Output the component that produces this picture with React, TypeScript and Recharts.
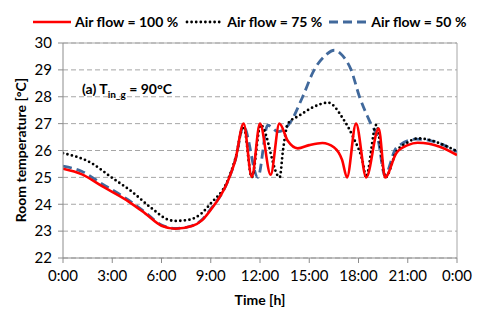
import { CartesianGrid, Line, LineChart, ReferenceLine, XAxis, YAxis } from "recharts";

// hours of day and room temperature [°C]
const hours100 = [0, 1.16, 2.38, 4, 5, 6, 6.84, 7.86, 8.46, 8.97, 10, 10.5, 11, 11.5, 12, 12.65, 13.18, 13.7, 14.3, 15, 15.8, 16.5, 17, 17.3, 17.85, 18.47, 19.23, 19.62, 20.3, 21, 21.6, 22.3, 22.95, 24];
const temp100 = [25.32, 25.11, 24.67, 24.1, 23.66, 23.2, 23.09, 23.19, 23.4, 23.77, 24.8, 25.65, 27.0, 25.02, 27.0, 25.1, 27.0, 26.35, 26.08, 26.2, 26.28, 26.12, 25.65, 25.0, 27.0, 25.0, 26.82, 25.0, 25.9, 26.2, 26.29, 26.25, 26.14, 25.83];

const hours75 = [0, 1.74, 2.95, 4.17, 5.4, 6.43, 6.84, 7.65, 8.46, 9, 10, 10.5, 11, 11.5, 12.04, 13.2, 13.4, 13.7, 14.4, 15.2, 16.15, 17.06, 17.67, 18.3, 18.45, 19.08, 19.65, 20.3, 21, 21.6, 22.3, 23.2, 24];
const temp75 = [25.9, 25.53, 25.0, 24.48, 23.85, 23.42, 23.38, 23.42, 23.67, 24.03, 24.84, 25.7, 26.9, 25.0, 26.95, 25.0, 26.0, 27.0, 27.3, 27.6, 27.78, 27.18, 26.5, 25.46, 25.0, 26.95, 25.0, 25.95, 26.3, 26.45, 26.4, 26.2, 25.97];

const hours50 = [0, 1.16, 2.38, 4, 5, 6, 6.84, 7.86, 8.46, 8.97, 10, 10.5, 11, 11.87, 12.47, 13.1, 13.5, 13.9, 14.6, 15.3, 16.0, 16.53, 17.0, 17.55, 18.06, 18.67, 19.2, 19.6, 20.3, 21.5, 22.3, 23.2, 24];
const temp50 = [25.42, 25.22, 24.76, 24.15, 23.7, 23.23, 23.1, 23.2, 23.42, 23.8, 24.8, 25.65, 26.9, 25.0, 26.94, 26.7, 26.8, 27.1, 28.0, 29.0, 29.55, 29.73, 29.55, 29.0, 28.0, 27.1, 26.38, 25.08, 26.1, 26.42, 26.38, 26.2, 25.95];

const xTicks = [0, 3, 6, 9, 12, 15, 18, 21, 24];
const yTicks = [22, 23, 24, 25, 26, 27, 28, 29, 30];

const series = [
  { name: "Air flow = 100 %", color: "#ff0000", dash: undefined as string | undefined, width: 2.6, cap: "butt" },
  { name: "Air flow = 75 %", color: "#000000", dash: "0 4.6", width: 2.8, cap: "round" },
  { name: "Air flow = 50 %", color: "#41699c", dash: "9 5", width: 2.8, cap: "butt" },
];

const toRows = (hs: number[], ts: number[]) => hs.map((h, i) => ({ h, t: ts[i] }));
const data100 = toRows(hours100, temp100);
const data75 = toRows(hours75, temp75);
const data50 = toRows(hours50, temp50);

const font = "Lato, 'Open Sans', sans-serif";
const axisGray = "#8c8c8c";

export default function App() {
  return (
    <div style={{ position: "absolute", left: 0, top: 0, width: 480, height: 317, background: "#fff", fontFamily: font }}>
      <div style={{ position: "absolute", left: 33, top: 13, display: "flex", alignItems: "center", fontWeight: 700, fontSize: 14, whiteSpace: "nowrap" }}>
        {series.map((s, i) => (
          <div key={s.name} style={{ display: "flex", alignItems: "center", marginLeft: i === 0 ? 0 : 7 }}>
            <svg width={38} height={6} style={{ marginRight: 4 }}>
              <line x1={s.cap === "round" ? 2 : 0} y1={3} x2={s.cap === "round" ? 36 : 38} y2={3} stroke={s.color} strokeWidth={s.width} strokeDasharray={s.dash} strokeLinecap={s.cap as any} />
            </svg>
            <span>{s.name}</span>
          </div>
        ))}
      </div>
      <LineChart width={480} height={317} margin={{ top: 43, right: 23, bottom: 0, left: 0 }}>
        <CartesianGrid horizontal vertical={false} stroke="#a6a6a6" strokeDasharray="5 3" />
        <XAxis
          dataKey="h"
          type="number"
          domain={[0, 24]}
          ticks={xTicks}
          tickFormatter={(v: number) => `${v % 24}:00`}
          height={59}
          stroke={axisGray}
          tickSize={5}
          tickMargin={7}
          tick={{ fill: "#000", fontSize: 15, fontFamily: font }}
          allowDataOverflow
        />
        <YAxis
          type="number"
          domain={[22, 30]}
          ticks={yTicks}
          width={63}
          stroke={axisGray}
          tickSize={5}
          tickMargin={6}
          tick={{ fill: "#000", fontSize: 15, fontFamily: font }}
          allowDataOverflow
        />
        <ReferenceLine y={30} stroke="#a6a6a6" />
        <ReferenceLine x={24} stroke="#a6a6a6" />
        <Line data={data50} dataKey="t" type="monotone" stroke={series[2].color} strokeWidth={series[2].width} strokeDasharray={series[2].dash} dot={false} activeDot={false} isAnimationActive={false} />
        <Line data={data75} dataKey="t" type="monotone" stroke={series[1].color} strokeWidth={series[1].width} strokeDasharray={series[1].dash} strokeLinecap="round" dot={false} activeDot={false} isAnimationActive={false} />
        <Line data={data100} dataKey="t" type="monotone" stroke={series[0].color} strokeWidth={series[0].width} dot={false} activeDot={false} isAnimationActive={false} />
      </LineChart>
      <svg width={480} height={317} style={{ position: "absolute", left: 0, top: 0, pointerEvents: "none" }} fontFamily={font} fontWeight={700}>
        <text x={82} y={94} fontSize={14}>
          (a) T<tspan fontSize={10} dy={4}>in_g</tspan>
          <tspan dy={-4}> = 90°C</tspan>
        </text>
        <text x={260} y={305} fontSize={14} textAnchor="middle">Time [h]</text>
        <text transform="translate(26,150) rotate(-90)" fontSize={14} textAnchor="middle">Room temperature [°C]</text>
      </svg>
    </div>
  );
}
